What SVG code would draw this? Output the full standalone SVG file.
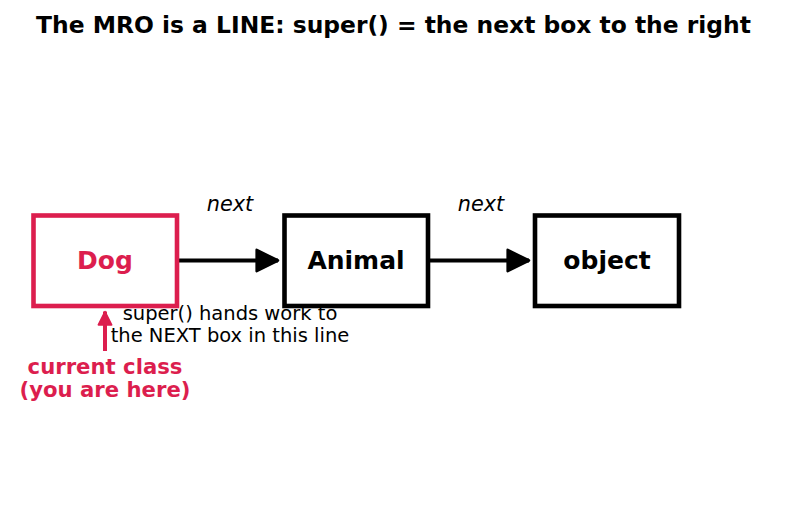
<svg xmlns="http://www.w3.org/2000/svg" width="787" height="510" viewBox="0 0 787 510">
<style>
text{font-family:"DejaVu Sans","Liberation Sans",sans-serif}
.title{font-size:23.4px;font-weight:bold;fill:#000}
.box{fill:#fff;stroke:#000;stroke-width:4.6}
.dogbox{stroke:#dc1e4e}
.lbl{font-size:25px;font-weight:bold;text-anchor:middle}
.next{font-size:20.8px;font-style:italic;text-anchor:middle}
.note{font-size:19.5px;text-anchor:middle}
.here{font-size:21.2px;font-weight:bold;text-anchor:middle}
.red{fill:#dc1e4e}
.edge{stroke:#000;stroke-width:4;fill:none}
</style>
<defs>
<marker id="ah" viewBox="-1 -1 12 12" refX="10" refY="5" markerWidth="6.4" markerHeight="6.4" markerUnits="strokeWidth" orient="auto">
<path d="M0,0 L10,5 L0,10 Z" fill="#000" stroke="#000" stroke-width="1.2" stroke-linejoin="round"/>
</marker>
<marker id="ahr" viewBox="-1 -1 12 12" refX="10" refY="5" markerWidth="4" markerHeight="4" markerUnits="strokeWidth" orient="auto">
<path d="M0,0 L10,5 L0,10 Z" fill="#dc1e4e" stroke="#dc1e4e" stroke-width="1.2" stroke-linejoin="round"/>
</marker>
</defs>
<rect width="787" height="510" fill="#fff"/>
<text class="title" x="393.5" y="33" text-anchor="middle">The MRO is a LINE: super() = the next box to the right</text>
<g id="connectors">
<line class="edge" x1="179" y1="260.5" x2="278" y2="260.5" marker-end="url(#ah)"/>
<line class="edge" x1="430" y1="260.5" x2="529" y2="260.5" marker-end="url(#ah)"/>
<line x1="105" y1="351" x2="105" y2="311.5" stroke="#dc1e4e" stroke-width="4" marker-end="url(#ahr)"/>
</g>
<g id="dog">
<rect class="box dogbox" x="33.5" y="215.5" width="143.5" height="90.5"/>
<text class="lbl red" x="105" y="269">Dog</text>
</g>
<g id="animal">
<rect class="box" x="284.5" y="215.5" width="143.5" height="90.5"/>
<text class="lbl" x="356" y="269">Animal</text>
</g>
<g id="object">
<rect class="box" x="535" y="215.5" width="144" height="90.5"/>
<text class="lbl" x="607" y="269">object</text>
</g>
<text class="next" x="230" y="211">next</text>
<text class="next" x="481" y="211">next</text>
<text class="note" x="230" y="320">super() hands work to</text>
<text class="note" x="230" y="342">the NEXT box in this line</text>
<text class="here red" x="105" y="374">current class</text>
<text class="here red" x="105" y="397">(you are here)</text>
</svg>
